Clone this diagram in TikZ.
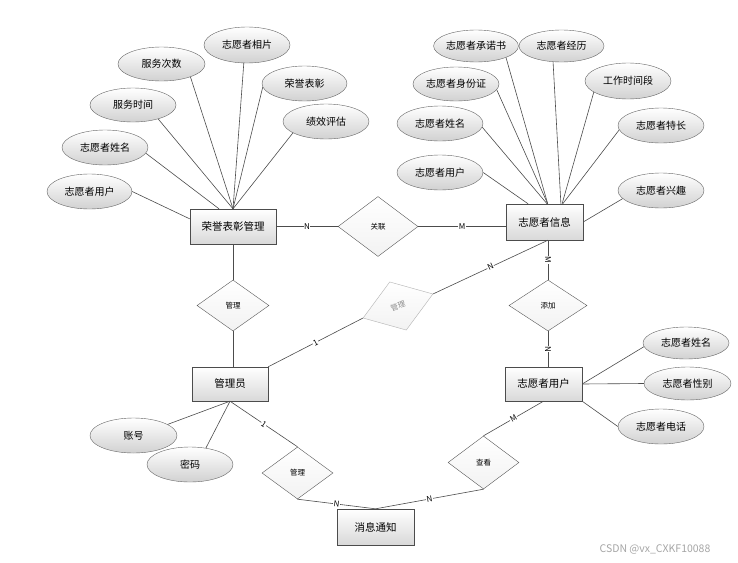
\documentclass[tikz,border=0pt]{standalone}
\usepackage{fontspec}
\setmainfont{Noto Sans CJK SC}
\usetikzlibrary{positioning,calc,shapes.geometric}

\begin{document}
\begin{tikzpicture}[x=1pt, y=-1pt,
  myentity/.style={draw=black!70, rectangle, minimum width=77, minimum height=35, inner sep=0pt, top color=white, bottom color=black!15, font=\fontsize{10.5}{12}\selectfont},
  myattr/.style={draw=black!60, ellipse, minimum width=86, minimum height=35, inner sep=0pt, top color=white, bottom color=black!18, font=\fontsize{10}{12}\selectfont},
  myrel/.style={draw=black!65, diamond, minimum width=72, minimum height=52, inner sep=0pt, top color=white, bottom color=black!5, font=\fontsize{7.5}{9}\selectfont},
  mylink/.style={draw=black!70, line width=0.6pt},
  mycard/.style={fill=white, inner sep=0.6pt, sloped, font=\fontsize{8}{9}\selectfont}
  ]
  \fill[white] (0,0) rectangle (738,562);
  \useasboundingbox (0,0) rectangle (738,562);

  \node[myentity, minimum width=86] (honor) at (233,226.5) {荣誉表彰管理};
  \node[myentity, minimum height=36] (info) at (544.5,222) {志愿者信息};
  \node[myentity, minimum width=76, minimum height=34] (admin) at (230,384) {管理员};
  \node[myentity, minimum height=34] (vuser) at (543.5,384) {志愿者用户};
  \node[myentity, minimum height=36] (notice) at (375.5,527) {消息通知};

  \node[myrel, minimum width=80, minimum height=60] (link) at (378,226.5) {关联};
  \node[myrel, minimum height=51] (manageA) at (233,305.5) {管理};
  \node[myrel, draw=black!30, text=black!45, minimum width=74, minimum height=51, rotate=19] (manageB) at (398,306) {管理};
  \node[myrel, minimum width=78, minimum height=51] (add) at (548,305.5) {添加};
  \node[myrel, minimum width=71] (manageC) at (297.5,473) {管理};
  \node[myrel, minimum width=71, minimum height=53] (view) at (483.5,462.5) {查看};

  \node[myattr, minimum height=36] (hPhoto) at (247,45) {志愿者相片};
  \node[myattr, minimum width=87, minimum height=34] (hCount) at (161.5,64) {服务次数};
  \node[myattr, minimum width=85] (hAward) at (304.5,83.5) {荣誉表彰};
  \node[myattr, minimum height=34] (hTime) at (133,105) {服务时间};
  \node[myattr] (hEval) at (326,121.5) {绩效评估};
  \node[myattr] (hName) at (105,147.5) {志愿者姓名};
  \node[myattr, minimum width=85] (hUser) at (89.5,191.5) {志愿者用户};

  \node[myattr, minimum width=84, minimum height=32] (iPromise) at (476,46) {志愿者承诺书};
  \node[myattr, minimum width=85, minimum height=32] (iExp) at (561.5,46) {志愿者经历};
  \node[myattr, minimum height=34] (iId) at (456,84) {志愿者身份证};
  \node[myattr, minimum height=36] (iWork) at (628,81) {工作时间段};
  \node[myattr] (iName) at (440,123.5) {志愿者姓名};
  \node[myattr] (iSkill) at (661,125.5) {志愿者特长};
  \node[myattr] (iUser) at (440,172.5) {志愿者用户};
  \node[myattr] (iHobby) at (661,190.5) {志愿者兴趣};

  \node[myattr, minimum height=32] (uName) at (686,343) {志愿者姓名};
  \node[myattr, minimum width=87, minimum height=33] (uSex) at (687.5,383.5) {志愿者性别};
  \node[myattr] (uPhone) at (661,426.5) {志愿者电话};

  \node[myattr, minimum width=87] (aAcct) at (133.5,435.5) {账号};
  \node[myattr] (aPwd) at (190,464.5) {密码};

  \draw[mylink] (honor.east) -- node[mycard]{N} (link.west);
  \draw[mylink] (link.east) -- node[mycard]{M} (link.east -| info.west);
  \draw[mylink] (honor.south) -- (manageA.north);
  \draw[mylink] (manageA.south) -- (manageA.south |- admin.north);
  \draw[mylink] (admin.north east) -- node[mycard]{1} (manageB.west);
  \draw[mylink] (manageB.east) -- node[mycard]{N} (info.south -| add.north);
  \draw[mylink] (info.south -| add.north) -- node[mycard]{M} (add.north);
  \draw[mylink] (add.south) -- node[mycard]{N} (add.south |- vuser.north);
  \draw[mylink] (admin.south) -- node[mycard]{1} (manageC.north);
  \draw[mylink] (manageC.south) -- node[mycard]{N} (notice.north);
  \draw[mylink] (notice.north) -- node[mycard]{N} (view.south);
  \draw[mylink] (view.north) -- node[mycard]{M} (vuser.south);

  \draw[mylink] (hPhoto.-100) -- (honor.north);
  \draw[mylink] (hCount.-24) -- (honor.north);
  \draw[mylink] (hAward.185) -- (honor.north);
  \draw[mylink] (hTime.-29) -- (honor.north);
  \draw[mylink] (hEval.199) -- (honor.north);
  \draw[mylink] (hName.-8) -- ($(honor.north)+(-14,0)$);
  \draw[mylink] (hUser.east) -- (honor.170);

  \draw[mylink] (iPromise.-21) -- (info.80);
  \draw[mylink] (iExp.-118) -- (info.48);
  \draw[mylink] (iId.-8) -- (info.80);
  \draw[mylink] (iWork.-162) -- (info.46);
  \draw[mylink] (iName.-5) -- (info.82);
  \draw[mylink] (iSkill.186) -- (info.45);
  \draw[mylink] (iUser.east) -- (info.132);
  \draw[mylink] (iHobby.192) -- (info.east);

  \draw[mylink] (vuser.east) -- (uName.185);
  \draw[mylink] (vuser.east) -- (uSex.west);
  \draw[mylink] (vuser.south east) -- (uPhone.west);
  \draw[mylink] (admin.south) -- (aAcct.18);
  \draw[mylink] (admin.south) -- (aPwd.46);

  \node[text=black!35, font=\fontsize{10.5}{12}\selectfont] (mark) at (655,549) {CSDN @vx\_CXKF10088};
\end{tikzpicture}
\end{document}
